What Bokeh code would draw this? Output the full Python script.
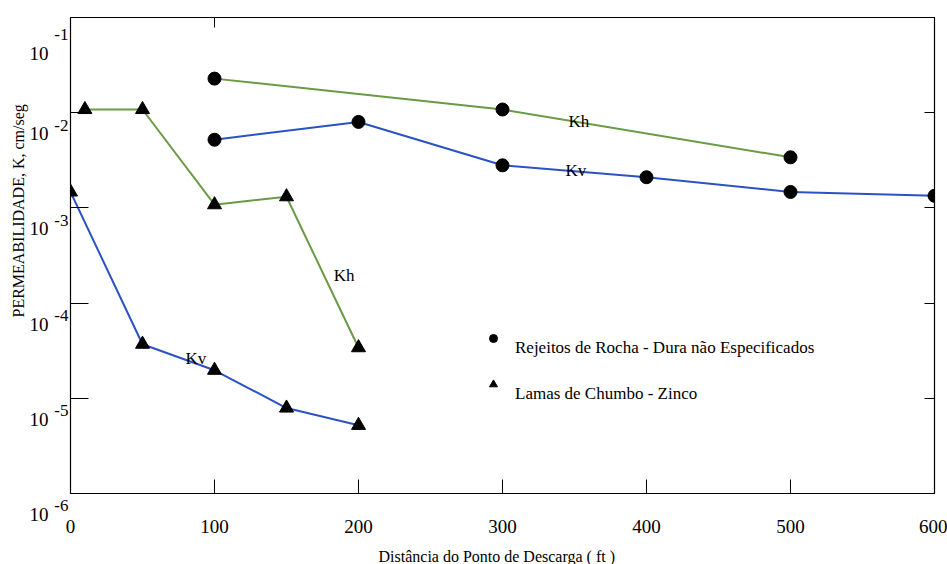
from bokeh.plotting import figure
from bokeh.models import (Legend, LegendItem, LogAxis, LinearAxis, FixedTicker, Title)
from bokeh.core.properties import value
from bokeh.embed import file_html
from bokeh.resources import INLINE

# ---- data ----
rocha_kh_x = [100, 300, 500]
rocha_kh_y = [0.0228, 0.0108, 0.0034]
rocha_kv_x = [100, 200, 300, 400, 500, 600]
rocha_kv_y = [0.0052, 0.0080, 0.0028, 0.0021, 0.00147, 0.00134]
lamas_kh_x = [10, 50, 100, 150, 200]
lamas_kh_y = [0.0108, 0.0108, 0.00108, 0.00131, 3.4e-5]
lamas_kv_x = [0, 50, 100, 150, 200]
lamas_kv_y = [0.00147, 3.7e-5, 1.97e-5, 7.9e-6, 5.2e-6]

x_ticks = [0, 100, 200, 300, 400, 500, 600]
y_ticks = [1e-6, 1e-5, 1e-4, 1e-3, 1e-2, 1e-1]
y_tick_base = ["10", "10", "10", "10", "10", "10"]
y_tick_exp = ["-6", "-5", "-4", "-3", "-2", "-1"]

curve_labels = ["Kh", "Kv", "Kh", "Kv"]
curve_label_x = [353, 351, 190, 87]
curve_label_y = [0.0080, 0.00245, 1.97e-4, 2.64e-5]

legend_names = ["Rejeitos de Rocha - Dura não Especificados", "Lamas de Chumbo - Zinco"]
x_title = "Distância do Ponto de Descarga ( ft )"
y_title = "PERMEABILIDADE, K, cm/seg"

GREEN = "#6a9a44"
BLUE = "#2a52c4"
FONT = "Liberation Serif"

p = figure(frame_width=864, frame_height=476, width=947, height=564,
           x_range=(0, 600), y_range=(1e-6, 1e-1), y_axis_type="log",
           output_backend="svg", toolbar_location=None,
           min_border_left=70, min_border_right=13, min_border_top=17, min_border_bottom=71)
p.background_fill_color = "white"
p.border_fill_color = "white"
p.outline_line_color = "black"
p.outline_line_width = 1.2
p.xgrid.visible = False
p.ygrid.visible = False

# bottom axis
xa = p.xaxis[0]
xa.ticker = FixedTicker(ticks=x_ticks)
xa.major_tick_in = 14
xa.major_tick_out = 0
xa.minor_tick_out = 0
xa.minor_tick_line_color = None
xa.major_label_text_font = FONT
xa.major_label_text_font_size = "19px"
xa.major_label_text_color = "black"
xa.major_label_standoff = 26
xa.axis_line_color = "black"


def quiet(ax):
    ax.major_label_text_font_size = "1px"
    ax.major_label_text_color = None
    ax.major_label_standoff = 0
    ax.major_tick_out = 0
    ax.minor_tick_out = 0
    ax.minor_tick_line_color = None


# left axis: tick marks only
ya = p.yaxis[0]
ya.ticker = FixedTicker(ticks=y_ticks)
ya.major_tick_in = 18
ya.axis_line_color = "black"
ya.major_label_overrides = {t: "" for t in y_ticks}
quiet(ya)

# tick labels "10" and exponent; leading empty lines set them a little below each tick,
# as in the original figure
ea = LogAxis(ticker=FixedTicker(ticks=y_ticks),
             major_label_overrides={t: "\n\n" + s for t, s in zip(y_ticks, y_tick_exp)},
             major_tick_line_color=None, minor_tick_line_color=None, axis_line_color=None,
             major_tick_out=0, minor_tick_out=0, major_tick_in=0, minor_tick_in=0,
             major_label_standoff=2, major_label_text_font=FONT,
             major_label_text_font_size="17px", major_label_text_line_height=0.65,
             major_label_text_color="black")
p.add_layout(ea, "left")
ba = LogAxis(ticker=FixedTicker(ticks=y_ticks),
             major_label_overrides={t: "\n\n\n\n" + s for t, s in zip(y_ticks, y_tick_base)},
             major_tick_line_color=None, minor_tick_line_color=None, axis_line_color=None,
             major_tick_out=0, minor_tick_out=0, major_tick_in=0, minor_tick_in=0,
             major_label_standoff=3, major_label_text_font=FONT,
             major_label_text_font_size="19px", major_label_text_line_height=0.5,
             major_label_text_color="black")
p.add_layout(ba, "left")

ra = LogAxis(ticker=FixedTicker(ticks=y_ticks), major_tick_in=10, axis_line_color="black")
quiet(ra)
p.add_layout(ra, "right")
ta = LinearAxis(ticker=FixedTicker(ticks=[100]), major_tick_in=10, axis_line_color="black")
quiet(ta)
p.add_layout(ta, "above")

# axis titles
p.add_layout(Title(text=y_title, align="left", offset=176, standoff=0,
                   text_font=FONT, text_font_size="16px", text_font_style="normal",
                   text_color="black"), "left")
p.add_layout(Title(text=x_title, align="left", offset=308, standoff=24, vertical_align="top",
                   text_font=FONT, text_font_size="16px", text_font_style="normal",
                   text_color="black"), "below")

# lines
p.line(rocha_kh_x, rocha_kh_y, line_color=GREEN, line_width=2)
p.line(rocha_kv_x, rocha_kv_y, line_color=BLUE, line_width=2)
p.line(lamas_kh_x, lamas_kh_y, line_color=GREEN, line_width=2)
p.line(lamas_kv_x, lamas_kv_y, line_color=BLUE, line_width=2)

# markers
rc = p.scatter(rocha_kh_x, rocha_kh_y, marker="circle", size=13, color="black")
p.scatter(rocha_kv_x, rocha_kv_y, marker="circle", size=13, color="black")
rt = p.scatter(lamas_kh_x, lamas_kh_y, marker="triangle", size=14, color="black")
p.scatter(lamas_kv_x, lamas_kv_y, marker="triangle", size=14, color="black")

# curve labels
p.text(curve_label_x, curve_label_y, text=curve_labels, text_font=value(FONT),
       text_font_size="17px", text_align="center", text_baseline="middle",
       text_color="black")

# legend: the text sits a little below its marker, as in the original
legend = Legend(items=[LegendItem(label="\n" + legend_names[0], renderers=[rc]),
                       LegendItem(label="\n" + legend_names[1], renderers=[rt])],
                location=(413, 89), orientation="vertical", border_line_color=None,
                background_fill_alpha=0, label_text_font=FONT, label_text_font_size="17px",
                label_text_color="black", label_text_line_height=1.4,
                glyph_width=20, glyph_height=20, label_height=20, spacing=6,
                padding=0, margin=0, label_standoff=12)
p.add_layout(legend)

open("out.html", "w").write(file_html(p, INLINE))
